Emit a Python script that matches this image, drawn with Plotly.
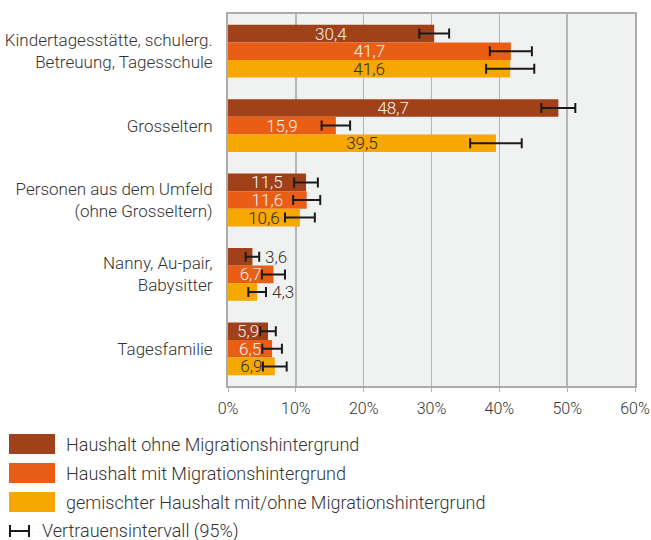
import plotly.graph_objects as go

categories = [
    "Kindertagesstätte, schulerg.<br>Betreuung, Tagesschule",
    "Grosseltern",
    "Personen aus dem Umfeld<br>(ohne Grosseltern)",
    "Nanny, Au-pair,<br>Babysitter",
    "Tagesfamilie",
]
series_names = [
    "Haushalt ohne Migrationshintergrund",
    "Haushalt mit Migrationshintergrund",
    "gemischter Haushalt mit/ohne Migrationshintergrund",
]
values = [
    [30.4, 48.7, 11.5, 3.6, 5.9],
    [41.7, 15.9, 11.6, 6.7, 6.5],
    [41.6, 39.5, 10.6, 4.3, 6.9],
]
errors = [
    [2.2, 2.5, 1.75, 1.0, 1.15],
    [3.1, 2.1, 2.0, 1.7, 1.45],
    [3.55, 3.8, 2.2, 1.3, 1.75],
]
ci_label = "Vertrauensintervall (95%)"
x_ticks = [0, 10, 20, 30, 40, 50, 60]

colors = ["#A1411A", "#E95E14", "#F6A800"]
inside_text_colors = ["#F2F2F2", "#F2F2F2", "#2B2B2B"]
FONT = "Roboto"
OUTSIDE_THRESHOLD = 5  # short bars get their label outside

W, H = 651, 540
L, R, T, B = 228, 16, 14, 154
pw, ph = W - L - R, H - T - B


def px_x(x):
    return (x - L) / pw


def px_y(y):
    return (H - B - y) / ph


fig = go.Figure()
for i, name in enumerate(series_names):
    texts = [("" if v < OUTSIDE_THRESHOLD else f"{v:.1f}".replace(".", ",")) for v in values[i]]
    fig.add_trace(go.Bar(
        name=name,
        y=categories,
        x=values[i],
        orientation="h",
        marker=dict(color=colors[i], line=dict(width=0)),
        error_x=dict(type="data", array=errors[i], visible=True,
                     color="#1a1a1a", thickness=2, width=5),
        text=texts,
        textposition="inside",
        insidetextanchor="middle",
        textfont=dict(family=FONT, size=17, color=inside_text_colors[i], weight=300),
        hoverinfo="skip",
        showlegend=False,
    ))
    for j, v in enumerate(values[i]):
        if v < OUTSIDE_THRESHOLD:
            fig.add_annotation(
                x=v + errors[i][j], y=categories[j], yref="y", xref="x",
                text=f"{v:.1f}".replace(".", ","),
                showarrow=False, xanchor="left", xshift=4,
                yshift=[17.5, 0, -17.5][i],
                font=dict(family=FONT, size=17, color="#333333", weight=300),
            )

fig.update_layout(
    width=W, height=H,
    margin=dict(l=L, r=R, t=T, b=B, autoexpand=False),
    barmode="group",
    bargap=0.29,
    bargroupgap=0,
    plot_bgcolor="#F0F1F1",
    paper_bgcolor="white",
    uniformtext=dict(minsize=17, mode="show"),
    font=dict(family=FONT, size=17, color="#333333", weight=300),
    xaxis=dict(
        range=[0, 60], tickvals=x_ticks,
        ticktext=[f"{t}%" for t in x_ticks],
        showgrid=True, gridcolor="#B5B5B5", gridwidth=1.5,
        showline=True, linecolor="#ABABAB", linewidth=2, mirror=True,
        ticks="outside", ticklen=4, tickcolor="#B5B5B5",
        ticklabelstandoff=3,
        zeroline=False, fixedrange=True, automargin=False,
        tickfont=dict(family=FONT, size=16, color="#333333", weight=300),
    ),
    yaxis=dict(
        categoryorder="array", categoryarray=categories,
        autorange="reversed", automargin=False, fixedrange=True,
        showline=True, linecolor="#ABABAB", linewidth=2, mirror=True,
        ticks="", ticklabelstandoff=10,
        tickfont=dict(family=FONT, size=17, color="#333333", weight=300),
    ),
)

# custom legend
sw_tops = [434, 463, 492]
for i, name in enumerate(series_names):
    fig.add_shape(type="rect", xref="paper", yref="paper",
                  x0=px_x(9), x1=px_x(55), y0=px_y(sw_tops[i] + 20), y1=px_y(sw_tops[i]),
                  fillcolor=colors[i], line=dict(width=0))
    fig.add_annotation(xref="paper", yref="paper", x=px_x(64), y=px_y(sw_tops[i] + 10),
                       text=name, showarrow=False, xanchor="left", yanchor="middle",
                       font=dict(family=FONT, size=18, color="#333333", weight=300))

# CI legend symbol
cy = 531
lw = dict(color="#1a1a1a", width=2)
fig.add_shape(type="line", xref="paper", yref="paper", x0=px_x(10), x1=px_x(29),
              y0=px_y(cy), y1=px_y(cy), line=lw)
fig.add_shape(type="line", xref="paper", yref="paper", x0=px_x(10), x1=px_x(10),
              y0=px_y(cy - 6), y1=px_y(cy + 6), line=lw)
fig.add_shape(type="line", xref="paper", yref="paper", x0=px_x(29), x1=px_x(29),
              y0=px_y(cy - 6), y1=px_y(cy + 6), line=lw)
fig.add_annotation(xref="paper", yref="paper", x=px_x(40), y=px_y(cy),
                   text=ci_label, showarrow=False, xanchor="left", yanchor="middle",
                   font=dict(family=FONT, size=18, color="#333333", weight=300))

fig.write_html(
    "out.html",
    config={"displayModeBar": False, "staticPlot": True},
    post_script="document.body.style.margin='0';document.body.style.overflow='hidden';",
)
